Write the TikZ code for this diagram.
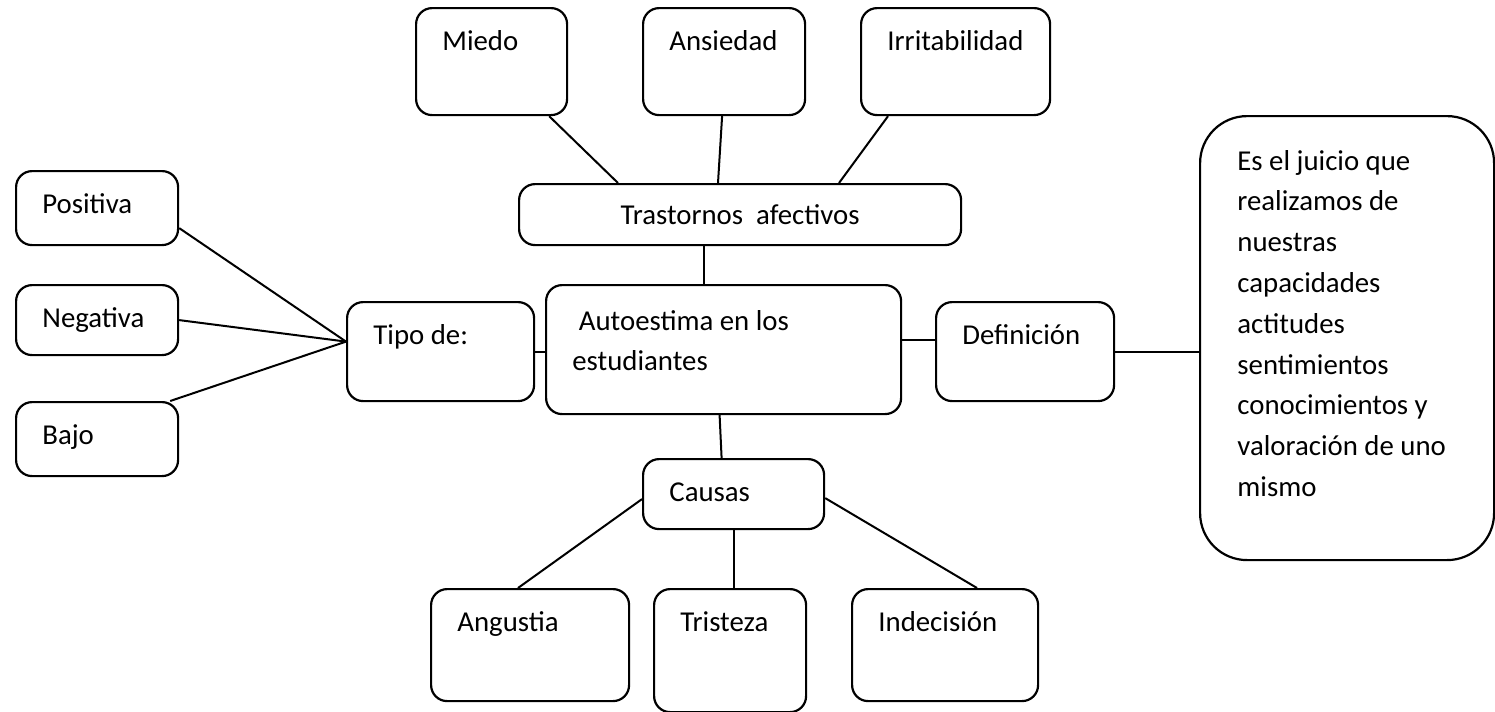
\documentclass[tikz,border=0pt]{standalone}
\usepackage{fontspec}
\setmainfont{Carlito}
\tikzset{bx/.style = {draw, line width=1.1pt, rounded corners=8pt, anchor=north west, inner sep=0pt},
         tx/.style = {anchor=base west, inner sep=0pt, xshift=13.5pt, yshift=-21.5pt, align=left},
         ln/.style = {line width=1pt}}

\begin{document}
\begin{tikzpicture}[x=0.5pt, y=-0.5pt, font=\fontsize{14.4}{20.4}\selectfont]
    \useasboundingbox (0,0) rectangle (1495,712);
    % top row
    \node[bx, minimum width=75.5pt, minimum height=53.5pt, label={[tx]north west:Miedo}] (miedo) at (415,7) {};
    \node[bx, minimum width=81pt, minimum height=53.5pt, label={[tx]north west:Ansiedad}] (ansiedad) at (642,7) {};
    \node[bx, minimum width=94.5pt, minimum height=53.5pt, label={[tx]north west:Irritabilidad}] (irrit) at (860,7) {};
    \node[bx, minimum width=221pt, minimum height=30.5pt] (trast) at (518,183) {Trastornos\ \ afectivos};
    % left column
    \node[bx, minimum width=81pt, minimum height=37pt, label={[tx]north west:Positiva}] (positiva) at (15,170) {};
    \node[bx, minimum width=81pt, minimum height=35pt, label={[tx]north west:Negativa}] (negativa) at (15,284) {};
    \node[bx, minimum width=81pt, minimum height=37pt, label={[tx]north west:Bajo}] (bajo) at (15,401) {};
    % middle row (base of a multi-line label is its last line)
    \node[bx, minimum width=93.5pt, minimum height=49.5pt, label={[tx]north west:{Tipo de:}}] (tipo) at (346,301) {};
    \node[bx, minimum width=177.5pt, minimum height=64.5pt, label={[tx, yshift=-21.9pt]north west:\ Autoestima en los\\estudiantes}] (auto) at (545,284) {};
    \node[bx, minimum width=89pt, minimum height=49.5pt, label={[tx]north west:Definición}] (def) at (935,301) {};
    \node[bx, rounded corners=23.5pt, minimum width=147pt, minimum height=222pt,
          label={[tx, xshift=5.5pt, yshift=-169.2pt]north west:Es el juicio que\\realizamos de\\nuestras\\capacidades\\actitudes\\sentimientos\\conocimientos y\\valoración de uno\\mismo}] (big) at (1199,115) {};
    % bottom
    \node[bx, minimum width=90.5pt, minimum height=35pt, label={[tx]north west:Causas}] (causas) at (642,458) {};
    \node[bx, minimum width=99pt, minimum height=56pt, label={[tx]north west:Angustia}] (angustia) at (430,588) {};
    \node[bx, minimum width=76pt, minimum height=61.5pt, label={[tx]north west:Tristeza}] (tristeza) at (653,588) {};
    \node[bx, minimum width=93pt, minimum height=56pt, label={[tx]north west:Indecisión}] (indecision) at (851,588) {};

    \draw[ln] ([xshift=-9.5pt]miedo.south east) -- ([xshift=50pt]trast.north west);
    \draw[ln] ([xshift=-1pt]ansiedad.south) -- ([xshift=100pt]trast.north west);
    \draw[ln] ([xshift=14pt]irrit.south west) -- ([xshift=160.5pt]trast.north west);
    \draw[ln] ([xshift=93pt]trast.south west) -- ([xshift=79.5pt]auto.north west);
    \draw[ln] ([yshift=-10pt]positiva.east) -- ([yshift=5pt]tipo.west);
    \draw[ln] (negativa.east) -- ([yshift=5pt]tipo.west);
    \draw[ln] ([xshift=-4.5pt]bajo.north east) -- ([yshift=5pt]tipo.west);
    \draw[ln] (tipo.east) -- (auto.west |- tipo.east);
    \draw[ln] ([yshift=4.75pt]auto.east) -- ([yshift=5.75pt]def.west);
    \draw[ln] (def.east) -- (def.east -| big.west);
    \draw[ln] ([xshift=-2pt]auto.south) -- ([xshift=-6pt]causas.north);
    \draw[ln] ([yshift=-2.5pt]causas.west) -- ([xshift=44pt]angustia.north west);
    \draw[ln] (causas.south) -- (causas.south |- tristeza.north);
    \draw[ln] ([yshift=-2pt]causas.east) -- ([xshift=63pt]indecision.north west);
\end{tikzpicture}
\end{document}
